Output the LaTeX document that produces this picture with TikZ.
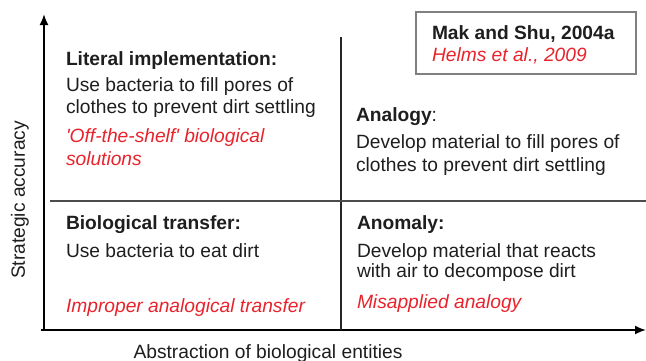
\documentclass[tikz,border=0pt]{standalone}
\usepackage{fontspec}
\setmainfont{Liberation Sans}
\usetikzlibrary{arrows.meta}
\definecolor{txt}{HTML}{1E1E1E}
\definecolor{redtxt}{HTML}{E8232C}
\begin{document}
\begin{tikzpicture}[x=1pt,y=-1pt,
  every node/.style={inner sep=0pt,outer sep=0pt,font=\fontsize{19.2}{23}\selectfont,text=txt},
  ln/.style={anchor=base west},
  hd/.style={ln,font=\fontsize{19.2}{23}\selectfont\bfseries},
  rd/.style={ln,text=redtxt,font=\fontsize{19.2}{23}\selectfont\itshape},
  axis/.style={line width=1.8pt,-{Latex[length=11pt,width=9pt]}},
  divider/.style={line width=1.5pt,black!85},
]
\useasboundingbox (0,0) rectangle (646,360);
% axes
\coordinate (o) at (44,330);
\coordinate (ytop) at (44,14);
\coordinate (xend) at (646,330);
\coordinate (xstart) at (41,330);
\draw[axis] (o) -- (ytop);
\draw[axis] (xstart) -- (xend);
% dividers
\coordinate (vtop) at (341,37);
\coordinate (vbot) at (341,330);
\coordinate (hl) at (50,201);
\coordinate (hr) at (646,201);
\draw[divider] (vtop) -- (vbot);
\draw[divider,black!70,line width=1.8pt] (hl) -- (hr);
% reference box
\node[draw=black!50,line width=1.4pt,minimum width=220pt,minimum height=62pt,anchor=north west] (refbox) at (416,12) {};
\node[hd] (mak) at (432,39) {Mak and Shu, 2004a};
\node[rd] (helms) at (432,61) {Helms et al., 2009};
% top-left
\node[hd] (lit1) at (66,65) {Literal implementation:};
\node[ln] (lit2) at (66,91) {Use bacteria to fill pores of};
\node[ln] (lit3) at (66,113) {clothes to prevent dirt settling};
\node[rd] (lit4) at (66,142) {\textquotesingle Off-the-shelf\textquotesingle\ biological};
\node[rd] (lit5) at (66,165) {solutions};
% top-right
\node[hd] (ana1) at (356,121) {Analogy\mdseries:};
\node[ln] (ana2) at (356,148) {Develop material to fill pores of};
\node[ln] (ana3) at (356,171) {clothes to prevent dirt settling};
% bottom-left
\node[hd] (bio1) at (66,229) {Biological transfer:};
\node[ln] (bio2) at (66,257) {Use bacteria to eat dirt};
\node[rd] (bio3) at (66,312) {Improper analogical transfer};
% bottom-right
\node[hd] (ano1) at (357,229) {Anomaly:};
\node[ln] (ano2) at (357,257) {Develop material that reacts};
\node[ln] (ano3) at (357,277) {with air to decompose dirt};
\node[rd] (ano4) at (357,308) {Misapplied analogy};
% axis labels
\node[rotate=90] (ylab) at (20,200) {Strategic accuracy};
\node[anchor=base] (xlab) at (268,358) {Abstraction of biological entities};
\end{tikzpicture}
\end{document}
